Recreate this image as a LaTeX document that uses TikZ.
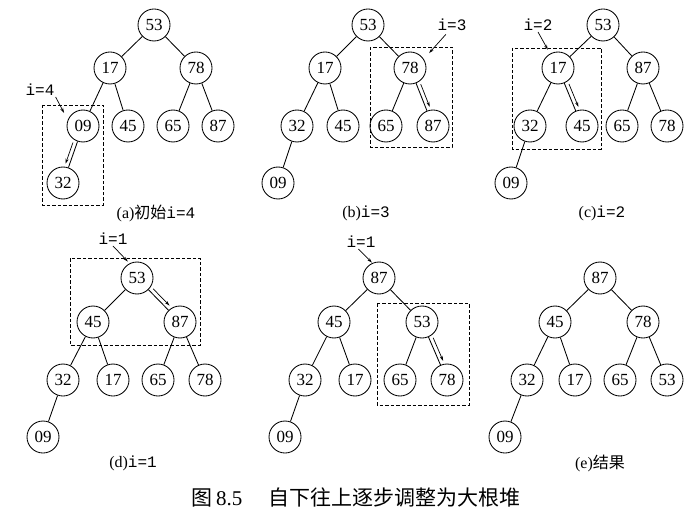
\documentclass[tikz,border=0pt]{standalone}
\usepackage{fontspec}
\setmainfont{Liberation Serif}
\setmonofont{Liberation Mono}
\newfontfamily\cjk{Noto Sans CJK SC}
\usetikzlibrary{calc,arrows.meta}
\tikzset{
  heapnode/.style={draw, circle, minimum size=32pt, inner sep=0pt, line width=0.85pt, font=\fontsize{17}{17}\selectfont},
  heapedge/.style={line width=0.85pt},
  subtree/.style={draw, line width=0.85pt, dash pattern=on 3.5pt off 2pt},
  idxlabel/.style={inner sep=1pt, font=\fontsize{16}{16}\selectfont\ttfamily},
  idxptr/.style={line width=0.7pt, -{Stealth[length=5pt,width=3pt]}},
  siftdown/.style={line width=0.7pt, -{Stealth[length=5pt,width=3pt]}, shorten <=19pt, shorten >=19pt},
  panelcap/.style={inner sep=1pt, font=\fontsize{16}{16}\selectfont}
}
\begin{document}
\begin{tikzpicture}[x=1pt,y=-1pt]
\useasboundingbox (0,0) rectangle (695,521);
% (a) initial heap, i=4
\foreach \n/\v/\x/\y in {1/53/154/25, 2/17/110/68, 3/78/196/68, 4/09/83/126, 5/45/128/126, 6/65/173/126, 7/87/218/126, 8/32/63/183}
  \node[heapnode] (a\n) at (\x,\y) {\v};
% (b) i=3
\foreach \n/\v/\x/\y in {1/53/368/25, 2/17/325/68, 3/78/410/68, 4/32/297/126, 5/45/343/126, 6/65/386/126, 7/87/433/126, 8/09/278/183}
  \node[heapnode] (b\n) at (\x,\y) {\v};
% (c) i=2
\foreach \n/\v/\x/\y in {1/53/603/25, 2/17/558/68, 3/87/643/68, 4/32/530/126, 5/45/582/126, 6/65/622/126, 7/78/667/126, 8/09/511/183}
  \node[heapnode] (c\n) at (\x,\y) {\v};
% (d) i=1
\foreach \n/\v/\x/\y in {1/53/137/278, 2/45/93/322, 3/87/180/322, 4/32/63/380, 5/17/113/380, 6/65/158/380, 7/78/205/380, 8/09/43/437}
  \node[heapnode] (d\n) at (\x,\y) {\v};
% (d) continued
\foreach \n/\v/\x/\y in {1/87/379/278, 2/45/334/322, 3/53/422/322, 4/32/305/380, 5/17/355/380, 6/65/400/380, 7/78/447/380, 8/09/285/437}
  \node[heapnode] (m\n) at (\x,\y) {\v};
% (e) result
\foreach \n/\v/\x/\y in {1/87/600/278, 2/45/555/322, 3/78/643/322, 4/32/527/380, 5/17/575/380, 6/65/620/380, 7/53/667/380, 8/09/505/437}
  \node[heapnode] (e\n) at (\x,\y) {\v};
% tree edges
\foreach \t in {a,b,c,d,m,e}
  \foreach \p/\c in {1/2, 1/3, 2/4, 2/5, 3/6, 3/7, 4/8}
    \draw[heapedge] (\t\p) -- (\t\c);
% dashed subtrees
\draw[subtree] (42,105) rectangle (103,205);
\draw[subtree] (370,47) rectangle (452,147);
\draw[subtree] (512,48) rectangle (601,149);
\draw[subtree] (70,258) rectangle (200,345);
\draw[subtree] (377,303) rectangle (469,405);
% index labels
\node[idxlabel] (ia) at (40,90) {i=4};
\node[idxlabel] (ib) at (452,25) {i=3};
\node[idxlabel] (ic) at (538,25) {i=2};
\node[idxlabel] (id) at (113,239) {i=1};
\node[idxlabel] (im) at (361,242) {i=1};
\draw[idxptr, shorten >=8pt] (ia.south east) -- (a4.158);
\draw[idxptr, shorten <=3pt, shorten >=8pt] (ib.240) -- (b3.33);
\draw[idxptr, shorten >=4.5pt] (ic.south) -- (c2.119);
\draw[idxptr, shorten >=2.5pt] (id.south) -- (d1.117);
\draw[idxptr, shorten >=0.5pt] (im.250) -- (m1.114);
% sift-down arrows
\draw[siftdown] ($(a4)!4pt!-90:(a8)$) -- ($(a8)!4pt!90:(a4)$);
\draw[siftdown] ($(b3)!4pt!90:(b7)$) -- ($(b7)!4pt!-90:(b3)$);
\draw[siftdown] ($(c2)!4pt!90:(c5)$) -- ($(c5)!4pt!-90:(c2)$);
\draw[siftdown] ($(d1)!4pt!90:(d3)$) -- ($(d3)!4pt!-90:(d1)$);
\draw[siftdown] ($(m3)!4pt!90:(m7)$) -- ($(m7)!4pt!-90:(m3)$);
% panel captions
\node[panelcap] (capa) at (156,213) {(a){\cjk 初始}\texttt{i=4}};
\node[panelcap] (capb) at (366,213) {(b)\texttt{i=3}};
\node[panelcap] (capc) at (602,213) {(c)\texttt{i=2}};
\node[panelcap] (capd) at (133,463) {(d)\texttt{i=1}};
\node[panelcap] (cape) at (600,463) {(e){\cjk 结果}};
\node[font=\fontsize{21}{21}\selectfont] (fig) at (356,497) {{\cjk 图}\,8.5\hspace{1.25em}{\cjk 自下往上逐步调整为大根堆}};
\end{tikzpicture}
\end{document}
